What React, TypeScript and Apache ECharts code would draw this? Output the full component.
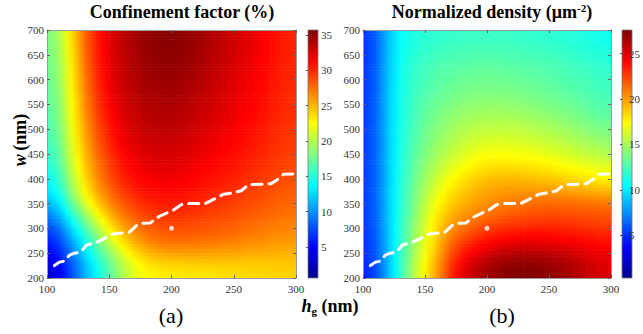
import React, { useEffect, useRef } from 'react';
import * as echarts from 'echarts';

// ---- data ----
const hCenters = [105, 115, 125, 135, 145, 155, 165, 175, 185, 195, 205, 215, 225, 235, 245, 255, 265, 275, 285, 295];
const wCenters = [687.5, 662.5, 637.5, 612.5, 587.5, 562.5, 537.5, 512.5, 487.5, 462.5, 437.5, 412.5, 387.5, 362.5, 337.5, 312.5, 287.5, 262.5, 237.5, 212.5];

const confinementRows = [
  [17.9, 21.6, 26, 29.5, 31.5, 33, 34, 34.8, 35.3, 35.5, 35.4, 35, 34.5, 33.9, 33.3, 32.7, 32.1, 31.4, 30.8, 30.2],
  [17.7, 21.4, 25.8, 29.3, 31.4, 32.9, 33.9, 34.7, 35.2, 35.4, 35.3, 34.9, 34.4, 33.8, 33.2, 32.6, 32, 31.3, 30.7, 30.1],
  [17.5, 21.2, 25.5, 29.1, 31.3, 32.8, 33.8, 34.5, 35, 35.2, 35.1, 34.7, 34.2, 33.6, 33, 32.4, 31.8, 31.2, 30.6, 30],
  [17.3, 21, 25.3, 28.9, 31.1, 32.7, 33.7, 34.4, 34.8, 35, 34.9, 34.5, 34, 33.4, 32.8, 32.2, 31.6, 31.1, 30.5, 30],
  [17.1, 20.8, 25.1, 28.6, 30.9, 32.5, 33.5, 34.2, 34.5, 34.6, 34.5, 34.1, 33.6, 33.1, 32.6, 32, 31.5, 31, 30.4, 29.9],
  [16.9, 20.6, 24.8, 28.3, 30.6, 32.3, 33.3, 34, 34.3, 34.4, 34.3, 33.9, 33.4, 32.9, 32.4, 31.9, 31.4, 30.9, 30.3, 29.8],
  [16.6, 20.4, 24.5, 28, 30.3, 32, 33, 33.7, 34, 34.1, 34, 33.6, 33.2, 32.7, 32.2, 31.7, 31.2, 30.7, 30.2, 29.7],
  [16.3, 20.1, 24.2, 27.6, 29.9, 31.6, 32.7, 33.4, 33.7, 33.8, 33.7, 33.3, 32.9, 32.4, 31.9, 31.4, 31, 30.5, 30, 29.6],
  [16, 19.8, 23.8, 27.2, 29.5, 31.2, 32.3, 33, 33.3, 33.4, 33.3, 32.9, 32.5, 32, 31.6, 31.2, 30.7, 30.3, 29.8, 29.4],
  [15.6, 19.4, 23.4, 26.7, 29, 30.8, 31.9, 32.6, 32.9, 33, 32.9, 32.5, 32.1, 31.7, 31.3, 30.9, 30.5, 30.1, 29.6, 29.2],
  [15, 19, 23, 26.2, 28.5, 30.3, 31.4, 32.1, 32.5, 32.6, 32.5, 32.1, 31.7, 31.3, 31, 30.6, 30.2, 29.8, 29.4, 29],
  [14.3, 18.3, 22.3, 25.5, 27.9, 29.7, 30.9, 31.6, 32, 32.1, 32, 31.6, 31.2, 30.9, 30.6, 30.2, 29.8, 29.4, 29.1, 28.7],
  [13.4, 17.3, 21.7, 24.9, 27.3, 29.1, 30.3, 31, 31.4, 31.5, 31.4, 31.1, 30.8, 30.5, 30.2, 29.8, 29.4, 29.1, 28.7, 28.4],
  [12, 16.2, 20.3, 23.8, 26.3, 28.2, 29.5, 30.3, 30.7, 30.8, 30.8, 30.5, 30.2, 29.9, 29.7, 29.3, 28.9, 28.6, 28.3, 28],
  [10.2, 14.3, 18, 21.6, 24.6, 26.8, 28.3, 29.2, 29.8, 30.1, 30.1, 29.9, 29.6, 29.3, 29.1, 28.7, 28.4, 28.1, 27.8, 27.5],
  [8, 12, 15.4, 19, 22.7, 25.3, 27.2, 28.2, 28.8, 29.1, 29.2, 29, 28.8, 28.6, 28.4, 28.1, 27.8, 27.5, 27.3, 27],
  [6.5, 9.8, 13.3, 16.8, 20.2, 23.3, 25.5, 27, 27.8, 28.2, 28.3, 28.2, 28.1, 27.9, 27.7, 27.4, 27.1, 26.8, 26.6, 26.4],
  [5.3, 8.5, 11.7, 15, 18.1, 21.3, 23.8, 25.5, 26.5, 26.9, 27, 27, 26.9, 26.8, 26.6, 26.4, 26.2, 26, 25.8, 25.6],
  [4, 7, 10, 13.2, 16.1, 19, 21.7, 23.4, 24.2, 24.6, 24.8, 24.8, 24.8, 24.8, 24.8, 24.8, 24.8, 24.8, 24.8, 24.8],
  [3, 6, 9.3, 12.4, 15.3, 18.1, 20.6, 22.3, 22.8, 23, 23.1, 23.2, 23.3, 23.4, 23.5, 23.6, 23.7, 23.8, 23.9, 24],
];

const densityRows = [
  [5.0, 7.5, 10.0, 11.0, 11.4, 11.6, 11.8, 11.9, 12.0, 12.0, 12.0, 12.0, 11.9, 11.8, 11.7, 11.6, 11.5, 11.3, 11.1, 10.9],
  [5.0, 7.5, 10.1, 11.2, 11.7, 12.0, 12.2, 12.3, 12.4, 12.4, 12.4, 12.4, 12.3, 12.2, 12.1, 12.0, 11.8, 11.6, 11.4, 11.2],
  [5.0, 7.5, 10.2, 11.4, 12.0, 12.3, 12.6, 12.7, 12.8, 12.9, 12.9, 12.8, 12.7, 12.6, 12.5, 12.4, 12.2, 12.0, 11.8, 11.6],
  [5.1, 7.6, 10.2, 11.5, 12.2, 12.6, 12.9, 13.1, 13.2, 13.3, 13.3, 13.2, 13.1, 13.0, 12.9, 12.7, 12.5, 12.3, 12.1, 11.9],
  [5.1, 7.6, 10.3, 11.6, 12.3, 12.8, 13.1, 13.4, 13.6, 13.7, 13.7, 13.6, 13.5, 13.4, 13.2, 13.0, 12.8, 12.6, 12.4, 12.2],
  [5.1, 7.6, 10.3, 11.6, 12.5, 13.1, 13.5, 13.8, 14.0, 14.1, 14.2, 14.1, 14.0, 13.8, 13.6, 13.4, 13.2, 12.9, 12.6, 12.4],
  [5.2, 7.7, 10.3, 11.7, 12.7, 13.4, 13.9, 14.3, 14.6, 14.7, 14.8, 14.7, 14.6, 14.4, 14.2, 14.0, 13.7, 13.4, 13.1, 12.8],
  [5.2, 7.7, 10.3, 11.8, 12.9, 13.7, 14.3, 14.8, 15.1, 15.3, 15.4, 15.4, 15.3, 15.1, 14.9, 14.6, 14.3, 14.0, 13.7, 13.4],
  [5.2, 7.7, 10.3, 11.9, 13.1, 14.0, 14.7, 15.3, 15.7, 16.0, 16.1, 16.1, 16.0, 15.8, 15.6, 15.3, 15.0, 14.7, 14.4, 14.1],
  [5.2, 7.7, 10.3, 12.0, 13.3, 14.3, 15.1, 15.8, 16.3, 16.7, 16.8, 16.8, 16.7, 16.6, 16.4, 16.1, 15.8, 15.5, 15.2, 14.9],
  [5.2, 7.7, 10.3, 12.1, 13.6, 14.7, 15.6, 16.4, 17.1, 17.5, 17.7, 17.7, 17.6, 17.5, 17.3, 17.0, 16.7, 16.4, 16.1, 15.8],
  [5.2, 7.7, 10.3, 12.3, 13.9, 15.2, 16.3, 17.2, 17.9, 18.4, 18.7, 18.8, 18.7, 18.6, 18.4, 18.2, 17.9, 17.7, 17.4, 17.1],
  [5.2, 7.7, 10.3, 12.4, 14.2, 15.8, 17.1, 18.1, 18.8, 19.3, 19.6, 19.7, 19.7, 19.6, 19.5, 19.3, 19.0, 18.7, 18.4, 18.1],
  [5.2, 7.7, 10.3, 12.5, 14.5, 16.4, 17.8, 18.7, 19.4, 19.9, 20.3, 20.5, 20.7, 20.8, 20.9, 20.9, 20.8, 20.7, 20.6, 20.5],
  [5.2, 7.7, 10.3, 12.7, 14.8, 16.9, 18.5, 19.5, 20.1, 20.5, 20.9, 21.2, 21.5, 21.7, 21.8, 21.9, 21.9, 21.8, 21.7, 21.6],
  [5.1, 7.6, 10.3, 12.9, 15.1, 17.3, 19.3, 20.3, 21.0, 21.6, 22.1, 22.4, 22.6, 22.7, 22.8, 22.8, 22.7, 22.6, 22.5, 22.4],
  [5.0, 7.5, 10.3, 13.1, 15.5, 17.6, 19.8, 21.2, 22.2, 22.9, 23.4, 23.7, 23.9, 24.0, 24.0, 23.9, 23.8, 23.6, 23.4, 23.2],
  [4.9, 7.4, 10.2, 13.3, 15.8, 17.9, 20.6, 22.5, 23.6, 24.2, 24.7, 25.0, 25.2, 25.2, 25.1, 25.0, 24.8, 24.6, 24.4, 24.2],
  [4.7, 7.2, 10.1, 13.5, 16.2, 18.4, 21.2, 23.4, 24.7, 25.7, 26.5, 26.9, 27.1, 27.1, 26.9, 26.6, 26.2, 25.7, 25.2, 24.8],
  [4.4, 7.0, 10.0, 13.7, 16.6, 18.9, 21.6, 24.2, 25.6, 26.5, 27.0, 27.4, 27.6, 27.6, 27.4, 27.1, 26.7, 26.1, 25.6, 25.2],
];

// optimal-width trace (white dashed) : h (nm), w (nm)
const optimalH = [106, 110, 114, 118, 122, 127, 132, 138, 145, 152, 158, 166, 172, 176, 183, 190, 196, 201, 208, 214, 227, 235, 242, 250, 256, 262, 280, 286, 290, 300];
const optimalW = [225, 232, 234, 246, 250, 252, 267, 270, 278, 288, 290, 292, 306, 310, 311, 324, 331, 336, 348, 350, 350, 360, 369, 372, 376, 388, 390, 400, 409, 410];
const markerPoint = [200, 300];

const xRange = [100, 300];
const yRange = [200, 700];
const cbRangeA = [0.6, 35.7];
const cbRangeB = [0.3, 27.6];
const cbTicksA = [5, 10, 15, 20, 25, 30, 35];
const cbTicksB = [5, 10, 15, 20, 25];

const jetRGB = [
  [0, 0, 143], [0, 0, 255], [0, 128, 255], [0, 255, 255], [128, 255, 128],
  [255, 255, 0], [255, 128, 0], [255, 0, 0], [128, 0, 0],
];
const jet = jetRGB.map((c) => `rgb(${c[0]},${c[1]},${c[2]})`);

const serif = '"Liberation Serif", "Times New Roman", Times, serif';

function jetColor(v: number, range: number[]) {
  let t = (v - range[0]) / (range[1] - range[0]);
  t = Math.max(0, Math.min(1, t));
  const s = t * (jetRGB.length - 1);
  const k = Math.min(jetRGB.length - 2, Math.floor(s));
  const f = s - k;
  const a = jetRGB[k];
  const b = jetRGB[k + 1];
  return `rgb(${Math.round(a[0] + (b[0] - a[0]) * f)},${Math.round(a[1] + (b[1] - a[1]) * f)},${Math.round(a[2] + (b[2] - a[2]) * f)})`;
}

function toCells(rows: number[][]) {
  const out: number[][] = [];
  rows.forEach((row, r) => row.forEach((v, c) => out.push([hCenters[c], wCenters[r], v])));
  return out;
}

// smooth (interpolated) shading of each cell, like MATLAB "shading interp"
function makeRenderer(rows: number[][], range: number[]) {
  const nR = rows.length;
  const nC = rows[0].length;
  const corner = (i: number, j: number) => {
    let s = 0;
    let n = 0;
    for (const r of [i - 1, i]) {
      for (const c of [j - 1, j]) {
        if (r >= 0 && r < nR && c >= 0 && c < nC) { s += rows[r][c]; n++; }
      }
    }
    return s / n;
  };
  return (params: any, api: any) => {
    const idx = params.dataIndex;
    const r = Math.floor(idx / nC);
    const c = idx % nC;
    const h = api.value(0);
    const w = api.value(1);
    const p0 = api.coord([h - 5, w + 12.5]);
    const p1 = api.coord([h + 5, w - 12.5]);
    const x = p0[0];
    const y = p0[1];
    const width = p1[0] - p0[0];
    const height = p1[1] - p0[1];
    const tl = corner(r, c);
    const tr = corner(r, c + 1);
    const bl = corner(r + 1, c);
    const br = corner(r + 1, c + 1);
    const S = 4;
    const children: any[] = [];
    for (let k = 0; k < S; k++) {
      const f = (k + 0.5) / S;
      const vl = tl + (bl - tl) * f;
      const vr = tr + (br - tr) * f;
      children.push({
        type: 'rect',
        shape: { x, y: y + (height * k) / S, width: width + 0.6, height: height / S + 0.6 },
        style: {
          fill: {
            type: 'linear', x: 0, y: 0, x2: 1, y2: 0,
            colorStops: [
              { offset: 0, color: jetColor(vl, range) },
              { offset: 0.5, color: jetColor((vl + vr) / 2, range) },
              { offset: 1, color: jetColor(vr, range) },
            ],
          },
        },
      });
    }
    return { type: 'group', children };
  };
}

const mainGrids = [
  { left: 47, top: 30, width: 249, height: 248 },
  { left: 363, top: 30, width: 248, height: 248 },
];
const cbGrids = [
  { left: 308, top: 30, width: 10, height: 248 },
  { left: 622, top: 30, width: 10, height: 248 },
];

export default function App() {
  const ref = useRef<HTMLDivElement>(null);
  useEffect(() => {
    if (!ref.current) return;
    const chart = echarts.init(ref.current, undefined, { renderer: 'svg' });
    const lineData = optimalH.map((h, i) => [h, optimalW[i]]);
    const tickLabel = { fontFamily: serif, fontSize: 11, color: '#333' };
    const boxLine = { show: true, lineStyle: { color: '#999', width: 1 } };
    const tick = { show: true, inside: true, length: 3, lineStyle: { color: '#666' } };

    const xAxes: any[] = [];
    const yAxes: any[] = [];
    [0, 1].forEach((g) => {
      xAxes.push({ gridIndex: g, type: 'value', min: xRange[0], max: xRange[1], interval: 50, z: 5,
        axisLine: boxLine, axisTick: tick, splitLine: { show: false },
        axisLabel: { ...tickLabel, margin: 5 } });
      xAxes.push({ gridIndex: g, type: 'value', position: 'top', min: xRange[0], max: xRange[1], interval: 50, z: 5,
        axisLine: boxLine, axisTick: tick, splitLine: { show: false }, axisLabel: { show: false } });
      yAxes.push({ gridIndex: g, type: 'value', min: yRange[0], max: yRange[1], interval: 50, z: 5,
        axisLine: boxLine, axisTick: tick, splitLine: { show: false },
        axisLabel: { ...tickLabel, margin: 3 } });
      yAxes.push({ gridIndex: g, type: 'value', position: 'right', min: yRange[0], max: yRange[1], interval: 50, z: 5,
        axisLine: boxLine, axisTick: tick, splitLine: { show: false }, axisLabel: { show: false } });
    });
    [[cbRangeA, cbTicksA], [cbRangeB, cbTicksB]].forEach(([range, ticks]: any, i) => {
      xAxes.push({ gridIndex: 2 + i, type: 'value', min: 0, max: 1, show: false });
      yAxes.push({ gridIndex: 2 + i, type: 'value', position: 'right', min: range[0], max: range[1], z: 5,
        axisLine: { show: false }, splitLine: { show: false },
        axisTick: { show: true, inside: true, length: 2, customValues: ticks, lineStyle: { color: '#555' } },
        axisLabel: { ...tickLabel, margin: 3, customValues: ticks } });
    });

    const cbGraphic = cbGrids.map((g) => ({
      type: 'rect', z: 1,
      shape: { x: g.left, y: g.top, width: g.width, height: g.height },
      style: {
        fill: { type: 'linear', x: 0, y: 1, x2: 0, y2: 0,
          colorStops: jet.map((c, k) => ({ offset: k / (jet.length - 1), color: c })) },
        stroke: '#777', lineWidth: 0.8,
      },
    }));

    const bold18 = { fontFamily: serif, fontSize: 18, fontWeight: 'bold', fill: '#000' };

    chart.setOption({
      animation: false,
      backgroundColor: '#fff',
      grid: [...mainGrids, ...cbGrids],
      xAxis: xAxes,
      yAxis: yAxes,
      series: [
        { type: 'custom', xAxisIndex: 0, yAxisIndex: 0, data: toCells(confinementRows), renderItem: makeRenderer(confinementRows, cbRangeA), clip: true, silent: true, z: 1 },
        { type: 'custom', xAxisIndex: 2, yAxisIndex: 2, data: toCells(densityRows), renderItem: makeRenderer(densityRows, cbRangeB), clip: true, silent: true, z: 1 },
        ...[0, 2].map((ax) => ({
          type: 'line', xAxisIndex: ax, yAxisIndex: ax, data: lineData, showSymbol: false, silent: true, z: 3,
          lineStyle: { color: '#fff', width: 3, type: [10, 7], cap: 'round' },
        })),
        ...[0, 2].map((ax) => ({
          type: 'scatter', xAxisIndex: ax, yAxisIndex: ax, data: [markerPoint], symbolSize: 5, silent: true, z: 4,
          itemStyle: { color: '#fff' },
        })),
      ],
      graphic: [
        ...cbGraphic,
        { type: 'text', x: 182, y: 12, style: { ...bold18, text: 'Confinement factor (%)', align: 'center', verticalAlign: 'middle' } },
        { type: 'text', x: 492, y: 12, style: {
          text: '{t|Normalized density (μm}{s|-2}{t|)}', align: 'center', verticalAlign: 'middle',
          rich: {
            t: { fontFamily: serif, fontSize: 18, fontWeight: 'bold', fill: '#000', lineHeight: 20 },
            s: { fontFamily: serif, fontSize: 11, fontWeight: 'bold', fill: '#000', verticalAlign: 'top', lineHeight: 20 },
          } } },
        { type: 'text', x: 20, y: 140, rotation: Math.PI / 2, style: {
          text: '{i|w} {b|(nm)}', align: 'center', verticalAlign: 'middle',
          rich: {
            i: { fontFamily: serif, fontSize: 18, fontWeight: 'bold', fontStyle: 'italic', fill: '#000' },
            b: { fontFamily: serif, fontSize: 18, fontWeight: 'bold', fill: '#000' },
          } } },
        { type: 'text', x: 330, y: 306, style: {
          text: '{i|h}{s|g}{b| (nm)}', align: 'center', verticalAlign: 'middle',
          rich: {
            i: { fontFamily: serif, fontSize: 18, fontWeight: 'bold', fontStyle: 'italic', fill: '#000', lineHeight: 20 },
            s: { fontFamily: serif, fontSize: 11, fontWeight: 'bold', fill: '#000', verticalAlign: 'bottom', lineHeight: 20 },
            b: { fontFamily: serif, fontSize: 18, fontWeight: 'bold', fill: '#000', lineHeight: 20 },
          } } },
        { type: 'text', x: 171, y: 315, style: { text: '(a)', fontFamily: serif, fontSize: 22, fill: '#000', align: 'center', verticalAlign: 'middle' } },
        { type: 'text', x: 502, y: 315, style: { text: '(b)', fontFamily: serif, fontSize: 22, fill: '#000', align: 'center', verticalAlign: 'middle' } },
      ],
    });
    return () => chart.dispose();
  }, []);
  return <div ref={ref} style={{ position: 'fixed', left: 0, top: 0, width: 643, height: 334 }} />;
}
